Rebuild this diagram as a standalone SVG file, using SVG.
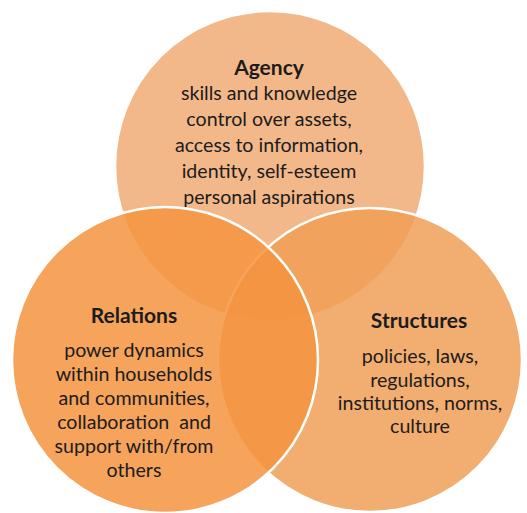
<svg xmlns="http://www.w3.org/2000/svg" width="527" height="513" viewBox="0 0 527 513">
<style>
.c{stroke:#fff;stroke-width:2.5}
text{font-family:Lato,"Liberation Sans",sans-serif;fill:#1c1c1c;text-anchor:middle}
.t{font-size:21px;font-weight:bold}
.b{font-size:19.6px}
</style>
<rect width="527" height="513" fill="#fff"/>
<g id="agency">
<circle class="c" cx="270" cy="166" r="155" fill="#F3B889"/>
</g>
<g id="structures">
<circle class="c" cx="370" cy="360" r="152" fill="#F09F57" fill-opacity="0.85"/>
</g>
<g id="relations">
<circle class="c" cx="165" cy="360" r="153" fill="#F49340" fill-opacity="0.85"/>
</g>
<g id="labels">
<text class="t" x="269" y="75">Agency</text>
<text class="b" x="269" y="100">skills and knowledge</text>
<text class="b" x="269" y="126">control over assets,</text>
<text class="b" x="269" y="152">access to information,</text>
<text class="b" x="269" y="178">identity, self-esteem</text>
<text class="b" x="269" y="204">personal aspirations</text>
<text class="t" x="134" y="323">Relations</text>
<text class="b" x="134" y="357">power dynamics</text>
<text class="b" x="134" y="381">within households</text>
<text class="b" x="134" y="405">and communities,</text>
<text class="b" x="134" y="429" xml:space="preserve">collaboration  and</text>
<text class="b" x="134" y="453">support with/from</text>
<text class="b" x="134" y="477">others</text>
<text class="t" x="419" y="328">Structures</text>
<text class="b" x="420" y="363">policies, laws,</text>
<text class="b" x="420" y="387">regulations,</text>
<text class="b" x="420" y="410">institutions, norms,</text>
<text class="b" x="420" y="433">culture</text>
</g>
</svg>
